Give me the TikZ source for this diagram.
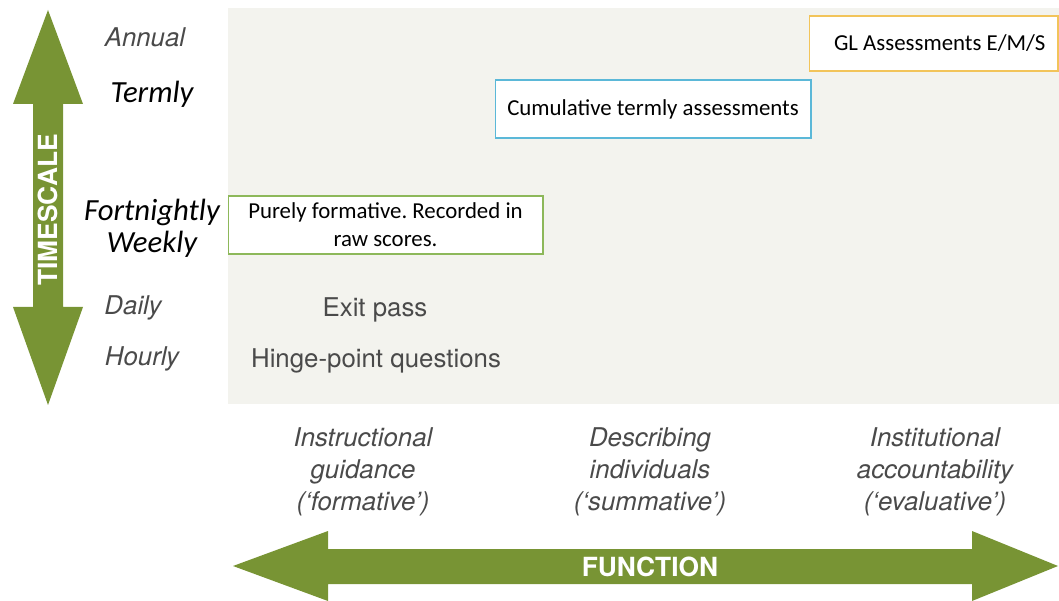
\documentclass[tikz,border=0pt]{standalone}
\usepackage{fontspec}
\setmainfont{Carlito}
\newfontfamily\helv{TeX Gyre Heros}
\usepackage{tikz}
\usetikzlibrary{positioning}
\definecolor{arrowgreen}{HTML}{789434}
\definecolor{bggray}{HTML}{F3F3EE}
\definecolor{boxgreen}{HTML}{8DB85A}
\definecolor{boxblue}{HTML}{5BB8D8}
\definecolor{boxgold}{HTML}{F2C45A}
\definecolor{labelgray}{HTML}{4A4A4A}
\frenchspacing
\tikzset{
  scalelabel/.style={font=\helv\fontsize{14.7}{17}\selectfont\itshape, text=labelgray},
  termlabel/.style={font=\fontsize{17.5}{20}\selectfont\itshape, text=black},
  funclabel/.style={font=\helv\fontsize{14.7}{18.2}\selectfont\itshape, text=labelgray, align=center},
  plainlabel/.style={font=\helv\fontsize{14.7}{17}\selectfont, text=labelgray},
  arrowtext/.style={font=\helv\bfseries\fontsize{15}{18}\selectfont, text=white},
  assessbox/.style={draw, fill=white, line width=0.6pt, font=\fontsize{13}{16}\selectfont, align=center, inner sep=0pt}
}
\begin{document}
\begin{tikzpicture}[x=0.02cm,y=-0.02cm]
\useasboundingbox (0,0) rectangle (1059,601);
\fill[bggray] (228,8) rectangle (1059,404);
\fill[arrowgreen] (48,10) -- (83,104) -- (63,104) -- (63,307) -- (83,307) -- (48,405)
  -- (13,307) -- (33,307) -- (33,104) -- (13,104) -- cycle;
\fill[arrowgreen] (233,566) -- (328,531) -- (328,549) -- (972,549) -- (972,531) -- (1058,566)
  -- (972,601) -- (972,584) -- (328,584) -- (328,601) -- cycle;
\node[arrowtext, rotate=90] (timescale) at (48,210) {TIMESCALE};
\node[arrowtext] (function) at (650,567) {FUNCTION};
\node[scalelabel] (annual) at (145,37) {Annual};
\node[termlabel] (termly) at (152,94) {Termly};
\node[termlabel] (fortnightly) at (152,212) {Fortnightly};
\node[termlabel] (weekly) at (152,244) {Weekly};
\node[scalelabel] (daily) at (133,308) {Daily};
\node[scalelabel] (hourly) at (142,359) {Hourly};
\node[assessbox, draw=boxgreen, minimum width=6.3cm, minimum height=1.16cm] (formative) at (385.5,225)
  {Purely formative. Recorded in\\raw scores.};
\node[assessbox, draw=boxblue, minimum width=6.32cm, minimum height=1.16cm] (cumulative) at (653,109)
  {Cumulative termly assessments};
\node[assessbox, draw=boxgold, minimum width=4.98cm, minimum height=1.1cm] (gl) at (933.5,43.5)
  {\hspace*{0.25cm}GL Assessments E/M/S};
\node[plainlabel] (exitpass) at (375,310) {Exit pass};
\node[plainlabel] (hinge) at (376,361) {Hinge-point questions};
\node[funclabel] (instructional) at (363,472) {Instructional\\guidance\\(‘formative’)};
\node[funclabel] (describing) at (650,472) {Describing\\individuals\\(‘summative’)};
\node[funclabel] (institutional) at (935,472) {Institutional\\accountability\\(‘evaluative’)};
\end{tikzpicture}
\end{document}
